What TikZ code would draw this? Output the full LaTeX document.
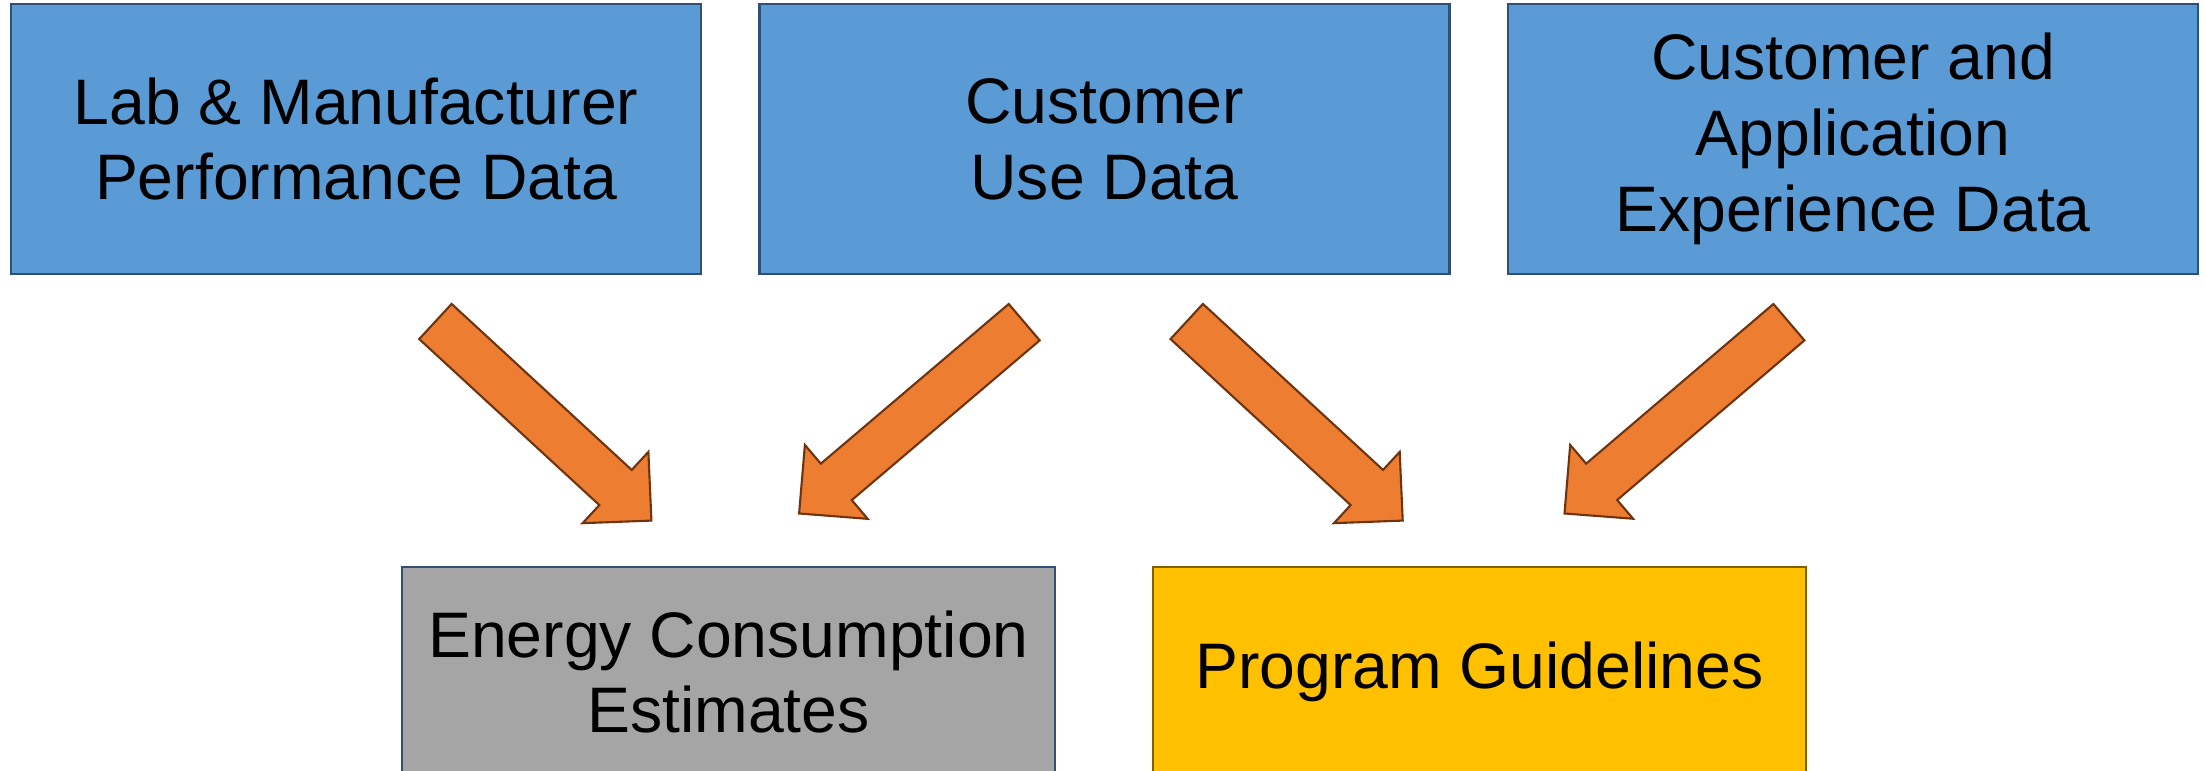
\documentclass[tikz,border=0pt]{standalone}
\usepackage{fontspec}
\setmainfont{Liberation Sans}
\usetikzlibrary{calc,positioning}

\definecolor{srcfill}{HTML}{5B9BD5}
\definecolor{srcline}{HTML}{2F4F77}
\definecolor{estfill}{HTML}{A5A5A5}
\definecolor{guidefill}{HTML}{FFC000}
\definecolor{guideline}{HTML}{7F6000}
\definecolor{flowfill}{HTML}{ED7D31}
\definecolor{flowline}{HTML}{6E3410}

\tikzset{
    databox/.style={draw=srcline,fill=srcfill,line width=0.6pt,
        minimum width=6.9cm,minimum height=2.7cm,inner sep=0pt,
        align=center,font=\fontsize{18.3}{21.6}\selectfont},
    resultbox/.style={databox,minimum width=6.53cm,minimum height=2.1cm},
    flow/.style={draw=flowline,fill=flowfill,line width=0.6pt,line join=miter}
}

% block arrow: name, tail, tip
\newcommand{\blockarrow}[3]{%
    \coordinate (#1-h) at ($(#3)!0.488cm!(#2)$);
    \draw[flow] ($(#2)!0.239cm!90:(#3)$) -- ($(#1-h)!0.239cm!-90:(#2)$)
        -- ($(#1-h)!0.485cm!-90:(#2)$) -- (#3)
        -- ($(#1-h)!0.485cm!90:(#2)$) -- ($(#1-h)!0.239cm!90:(#2)$)
        -- ($(#2)!0.239cm!-90:(#3)$) -- cycle;
}

\begin{document}
\begin{tikzpicture}
    \useasboundingbox (0,0) rectangle (22.06,7.71);

    \node[databox] (lab) at (3.56,6.32)
        {Lab \& Manufacturer\\Performance Data};
    \node[databox] (use) at (11.045,6.32)
        {Customer\\Use Data};
    \node[databox] (exp) at (18.53,6.32)
        {Customer and\\Application\\Experience Data};

    \node[resultbox,draw=srcline,fill=estfill] (energy) at (7.285,0.99)
        {Energy Consumption\\Estimates};
    \node[resultbox,draw=guideline,fill=guidefill] (guide) at (14.795,0.99)
        {Program Guidelines};

    \coordinate (a1-t) at (4.354,4.495);
    \coordinate (a1-p) at (6.514,2.504);
    \coordinate (a2-t) at (10.242,4.488);
    \coordinate (a2-p) at (7.991,2.575);
    \coordinate (a3-t) at (11.867,4.495);
    \coordinate (a3-p) at (14.027,2.504);
    \coordinate (a4-t) at (17.889,4.488);
    \coordinate (a4-p) at (15.645,2.575);

    \blockarrow{a1}{a1-t}{a1-p}
    \blockarrow{a2}{a2-t}{a2-p}
    \blockarrow{a3}{a3-t}{a3-p}
    \blockarrow{a4}{a4-t}{a4-p}
\end{tikzpicture}
\end{document}
